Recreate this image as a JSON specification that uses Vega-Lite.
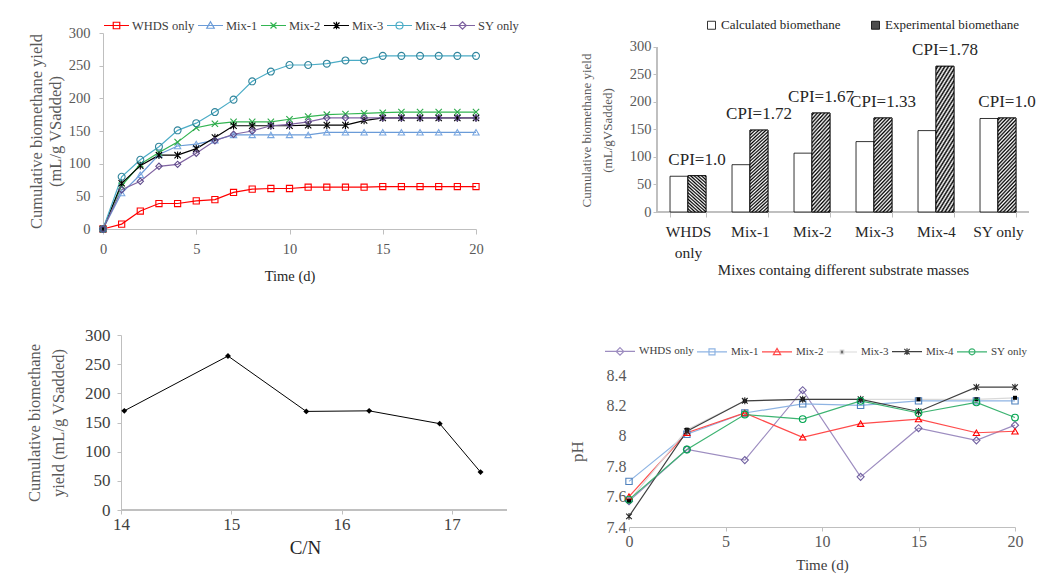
{
  "$schema": "https://vega.github.io/schema/vega-lite/v6.json",
  "background": "white",
  "padding": {"left": 26, "top": 12, "right": 5, "bottom": 5},
  "datasets": {
    "cum": [
      {"d": 0, "WHDS only": 0, "Mix-1": 0, "Mix-2": 0, "Mix-3": 0, "Mix-4": 0, "SY only": 0},
      {"d": 1, "WHDS only": 7.5, "Mix-1": 55, "Mix-2": 66, "Mix-3": 70, "Mix-4": 80, "SY only": 60},
      {"d": 2, "WHDS only": 27.5, "Mix-1": 83, "Mix-2": 99, "Mix-3": 97, "Mix-4": 106, "SY only": 73},
      {"d": 3, "WHDS only": 39, "Mix-1": 114, "Mix-2": 117, "Mix-3": 113, "Mix-4": 126, "SY only": 96},
      {"d": 4, "WHDS only": 39, "Mix-1": 127, "Mix-2": 133, "Mix-3": 113, "Mix-4": 151, "SY only": 99},
      {"d": 5, "WHDS only": 43, "Mix-1": 130, "Mix-2": 155, "Mix-3": 123, "Mix-4": 162, "SY only": 116},
      {"d": 6, "WHDS only": 45, "Mix-1": 136, "Mix-2": 161, "Mix-3": 140, "Mix-4": 179, "SY only": 135},
      {"d": 7, "WHDS only": 56, "Mix-1": 144, "Mix-2": 164, "Mix-3": 158, "Mix-4": 198, "SY only": 145},
      {"d": 8, "WHDS only": 61, "Mix-1": 144, "Mix-2": 164, "Mix-3": 158, "Mix-4": 226, "SY only": 150},
      {"d": 9, "WHDS only": 62, "Mix-1": 144, "Mix-2": 164, "Mix-3": 158, "Mix-4": 241, "SY only": 158},
      {"d": 10, "WHDS only": 62, "Mix-1": 144, "Mix-2": 168, "Mix-3": 158, "Mix-4": 251, "SY only": 160},
      {"d": 11, "WHDS only": 64, "Mix-1": 144, "Mix-2": 172, "Mix-3": 159, "Mix-4": 251, "SY only": 164},
      {"d": 12, "WHDS only": 64, "Mix-1": 148, "Mix-2": 175, "Mix-3": 159, "Mix-4": 253, "SY only": 170},
      {"d": 13, "WHDS only": 64, "Mix-1": 148, "Mix-2": 176, "Mix-3": 159, "Mix-4": 258, "SY only": 170},
      {"d": 14, "WHDS only": 64, "Mix-1": 148, "Mix-2": 177, "Mix-3": 166, "Mix-4": 258, "SY only": 170},
      {"d": 15, "WHDS only": 65, "Mix-1": 148, "Mix-2": 178, "Mix-3": 170, "Mix-4": 265, "SY only": 170},
      {"d": 16, "WHDS only": 65, "Mix-1": 148, "Mix-2": 179, "Mix-3": 170, "Mix-4": 265, "SY only": 170},
      {"d": 17, "WHDS only": 65, "Mix-1": 148, "Mix-2": 179, "Mix-3": 170, "Mix-4": 265, "SY only": 170},
      {"d": 18, "WHDS only": 65, "Mix-1": 148, "Mix-2": 179, "Mix-3": 170, "Mix-4": 265, "SY only": 170},
      {"d": 19, "WHDS only": 65, "Mix-1": 148, "Mix-2": 179, "Mix-3": 170, "Mix-4": 265, "SY only": 170},
      {"d": 20, "WHDS only": 65, "Mix-1": 148, "Mix-2": 179, "Mix-3": 170, "Mix-4": 265, "SY only": 170}
    ],
    "bars": [
      {"cat": "WHDS only", "type": "Calculated biomethane", "v": 65},
      {"cat": "WHDS only", "type": "Experimental biomethane", "v": 66, "cpi": "CPI=1.0"},
      {"cat": "Mix-1", "type": "Calculated biomethane", "v": 86},
      {"cat": "Mix-1", "type": "Experimental biomethane", "v": 149, "cpi": "CPI=1.72"},
      {"cat": "Mix-2", "type": "Calculated biomethane", "v": 107},
      {"cat": "Mix-2", "type": "Experimental biomethane", "v": 180, "cpi": "CPI=1.67"},
      {"cat": "Mix-3", "type": "Calculated biomethane", "v": 128},
      {"cat": "Mix-3", "type": "Experimental biomethane", "v": 171, "cpi": "CPI=1.33"},
      {"cat": "Mix-4", "type": "Calculated biomethane", "v": 148},
      {"cat": "Mix-4", "type": "Experimental biomethane", "v": 265, "cpi": "CPI=1.78"},
      {"cat": "SY only", "type": "Calculated biomethane", "v": 170},
      {"cat": "SY only", "type": "Experimental biomethane", "v": 171, "cpi": "CPI=1.0"}
    ],
    "cn": [
      {"cn": 14.03, "y": 170},
      {"cn": 14.97, "y": 264},
      {"cn": 15.68, "y": 169},
      {"cn": 16.25, "y": 170},
      {"cn": 16.89, "y": 148},
      {"cn": 17.26, "y": 65}
    ],
    "ph": [
      {"t": 0, "WHDS only": 7.57, "Mix-1": 7.70, "Mix-2": 7.60, "Mix-3": 7.57, "Mix-4": 7.47, "SY only": 7.58},
      {"t": 3, "WHDS only": 7.91, "Mix-1": 8.01, "Mix-2": 8.02, "Mix-3": 8.04, "Mix-4": 8.03, "SY only": 7.91},
      {"t": 6, "WHDS only": 7.84, "Mix-1": 8.15, "Mix-2": 8.15, "Mix-3": 8.23, "Mix-4": 8.23, "SY only": 8.14},
      {"t": 9, "WHDS only": 8.30, "Mix-1": 8.21, "Mix-2": 7.99, "Mix-3": 8.24, "Mix-4": 8.24, "SY only": 8.11},
      {"t": 12, "WHDS only": 7.73, "Mix-1": 8.20, "Mix-2": 8.08, "Mix-3": 8.24, "Mix-4": 8.24, "SY only": 8.23},
      {"t": 15, "WHDS only": 8.05, "Mix-1": 8.23, "Mix-2": 8.11, "Mix-3": 8.24, "Mix-4": 8.16, "SY only": 8.15},
      {"t": 18, "WHDS only": 7.97, "Mix-1": 8.23, "Mix-2": 8.02, "Mix-3": 8.24, "Mix-4": 8.32, "SY only": 8.22},
      {"t": 20, "WHDS only": 8.07, "Mix-1": 8.23, "Mix-2": 8.03, "Mix-3": 8.25, "Mix-4": 8.32, "SY only": 8.12}
    ]
  },
  "resolve": {
    "scale": {"color": "independent", "fill": "independent"},
    "legend": {"color": "independent", "fill": "independent"}
  },
  "hconcat": [
    {
      "spacing": 43,
      "resolve": {
        "scale": {"color": "independent", "fill": "independent"},
        "legend": {"color": "independent", "fill": "independent"}
      },
      "vconcat": [
        {
          "width": 373,
          "height": 196,
          "data": {"name": "cum"},
          "transform": [{"fold": ["WHDS only", "Mix-1", "Mix-2", "Mix-3", "Mix-4", "SY only"], "as": ["series", "y"]}],
          "encoding": {
            "x": {"field": "d", "type": "quantitative", "scale": {"domain": [0, 20], "nice": false},
              "axis": {"title": "Time (d)", "values": [0, 5, 10, 15, 20], "tickSize": 5, "labelPadding": 8, "labelFontSize": 14.5, "labelColor": "#595959", "titleFontSize": 14.5, "titleColor": "#262626", "titlePadding": 14}},
            "y": {"field": "y", "type": "quantitative", "scale": {"domain": [0, 300]},
              "axis": {"title": ["Cumulative biomethane yield", "(mL/g VSadded)"], "values": [0, 50, 100, 150, 200, 250, 300], "tickSize": 4, "labelPadding": 9, "labelFontSize": 14.5, "labelColor": "#595959", "titleFontSize": 16.5, "titleLineHeight": 18.5, "titlePadding": 5, "titleColor": "#595959"}}
          },
          "layer": [
            {
              "mark": {"type": "line", "strokeWidth": 1.2},
              "encoding": {
                "color": {"field": "series", "type": "nominal",
                  "scale": {"domain": ["WHDS only", "Mix-1", "Mix-2", "Mix-3", "Mix-4", "SY only"], "range": ["#ff0000", "#6a9bd8", "#33b552", "#000000", "#4bacc6", "#8064a2"]},
                  "legend": {"orient": "none", "legendX": 0, "legendY": -21, "direction": "horizontal", "columns": 6, "title": null, "symbolSize": 625, "symbolStrokeWidth": 1.2, "labelFontSize": 12.5, "labelColor": "#404040", "labelOffset": 2, "columnPadding": 0, "padding": 0,
                    "encode": {"symbols": {"update": {
                      "shape": {"signal": "datum.value==='WHDS only'?'M-1,0L1,0M-0.26,-0.26L0.26,-0.26L0.26,0.26L-0.26,0.26Z':datum.value==='Mix-1'?'M-1,0L1,0M0,-0.3L0.3,0.22L-0.3,0.22Z':datum.value==='Mix-2'?'M-1,0L1,0M-0.24,-0.24L0.24,0.24M-0.24,0.24L0.24,-0.24':datum.value==='Mix-3'?'M-1,0L1,0M-0.24,-0.24L0.24,0.24M-0.24,0.24L0.24,-0.24M0,-0.3L0,0.3':datum.value==='Mix-4'?'M-1,0L1,0M-0.28,0A0.28,0.28,0,1,0,0.28,0A0.28,0.28,0,1,0,-0.28,0':'M-1,0L1,0M0,-0.3L0.3,0L0,0.3L-0.3,0Z'"},
                      "fill": {"value": "transparent"}
                    }}}
                  }
                }
              }
            },
            {"transform": [{"filter": "datum.series === 'WHDS only'"}], "mark": {"type": "point", "shape": "square", "filled": false, "stroke": "#ff0000", "size": 38, "strokeWidth": 1.1, "opacity": 1}},
            {"transform": [{"filter": "datum.series === 'Mix-1'"}], "mark": {"type": "point", "shape": "triangle-up", "filled": false, "stroke": "#7aa7e0", "size": 40, "strokeWidth": 1.1, "opacity": 1}},
            {"transform": [{"filter": "datum.series === 'Mix-2'"}], "mark": {"type": "point", "shape": "M-1,-1L1,1M-1,1L1,-1", "filled": false, "stroke": "#2ca84a", "size": 40, "strokeWidth": 1.1, "opacity": 1}},
            {"transform": [{"filter": "datum.series === 'Mix-3'"}], "mark": {"type": "point", "shape": "M-1,-1L1,1M-1,1L1,-1M0,-1.2L0,1.2", "filled": false, "stroke": "#000000", "size": 40, "strokeWidth": 1.1, "opacity": 1}},
            {"transform": [{"filter": "datum.series === 'Mix-4'"}], "mark": {"type": "point", "shape": "circle", "filled": false, "stroke": "#31859c", "size": 48, "strokeWidth": 1.1, "opacity": 1}},
            {"transform": [{"filter": "datum.series === 'SY only'"}], "mark": {"type": "point", "shape": "diamond", "filled": false, "stroke": "#5f4b8b", "size": 40, "strokeWidth": 1.1, "opacity": 1}}
          ]
        },
        {
          "width": 404,
          "height": 175,
          "data": {"name": "cn"},
          "encoding": {
            "x": {"field": "cn", "type": "quantitative", "scale": {"domain": [13.8368, 17.5], "nice": false, "zero": false},
              "axis": {"title": "C/N", "values": [14, 15, 16, 17], "domain": false, "tickSize": 4, "labelPadding": 2, "labelFontSize": 17, "labelColor": "#404040", "titleFontSize": 19, "titleColor": "#262626", "titlePadding": 6}},
            "y": {"field": "y", "type": "quantitative", "scale": {"domain": [0, 300]},
              "axis": {"offset": -18, "title": ["Cumulative biomethane", "yield (mL/g VSadded)"], "values": [0, 50, 100, 150, 200, 250, 300], "tickSize": 4, "labelPadding": 7, "labelFontSize": 17, "labelColor": "#404040", "titleFontSize": 16.5, "titleLineHeight": 24, "titlePadding": 18, "titleColor": "#595959"}}
          },
          "layer": [
            {"mark": {"type": "rule", "color": "#bfbfbf", "strokeWidth": 1}, "encoding": {"x": {"datum": 14}, "x2": {"datum": 17.5}, "y": {"datum": 0}}},
            {"mark": {"type": "line", "color": "#000000", "strokeWidth": 1}},
            {"mark": {"type": "point", "shape": "diamond", "filled": true, "color": "#000000", "size": 35, "opacity": 1}}
          ]
        }
      ]
    },
    {
      "spacing": 57,
      "resolve": {
        "scale": {"color": "independent", "fill": "independent"},
        "legend": {"color": "independent", "fill": "independent"}
      },
      "vconcat": [
        {
          "width": 400,
          "height": 179,
          "data": {"name": "bars"},
          "encoding": {
            "x": {"field": "cat", "type": "nominal",
              "scale": {"domain": ["WHDS only", "Mix-1", "Mix-2", "Mix-3", "Mix-4", "SY only"], "paddingInner": 0.42, "paddingOuter": 0.4358, "align": 0.759},
              "axis": {"title": "Mixes containg different substrate masses", "domain": false, "labelAngle": 0, "tickBand": "extent", "tickSize": 5, "labelPadding": 7, "labelFontSize": 15.5, "labelColor": "#262626", "labelLineHeight": 21, "labelExpr": "datum.label == 'WHDS only' ? ['WHDS', 'only'] : datum.label", "titleFontSize": 15, "titleColor": "#262626", "titlePadding": 2, "titleX": 214}},
            "xOffset": {"field": "type", "type": "nominal", "scale": {"domain": ["Calculated biomethane", "Experimental biomethane"], "paddingInner": 0, "paddingOuter": 0}},
            "y": {"field": "v", "type": "quantitative", "stack": null, "scale": {"domain": [0, 325.45], "nice": false},
              "axis": {"offset": -28, "domain": false, "title": ["Cumulative biomethane yield", "(mL/gVSadded)"], "values": [0, 50, 100, 150, 200, 250, 300], "tickSize": 4, "labelPadding": 2, "labelFontSize": 14.5, "labelColor": "#595959", "titleFontSize": 13, "titleLineHeight": 21, "titlePadding": 15, "titleColor": "#595959", "titleY": 97}}
          },
          "layer": [
            {"mark": {"type": "rule", "color": "#bfbfbf", "strokeWidth": 1}, "encoding": {"x": {"datum": "WHDS only", "bandPosition": -0.362}, "x2": {"datum": "SY only", "bandPosition": 1.362}, "y": {"datum": 0}, "xOffset": null}},
            {"mark": {"type": "rule", "color": "#bfbfbf", "strokeWidth": 1}, "encoding": {"x": {"datum": "WHDS only", "bandPosition": -0.362}, "y": {"datum": 0}, "y2": {"datum": 300}, "xOffset": null}},
            {
              "mark": {"type": "bar", "stroke": "#000000", "strokeWidth": 0.8},
              "encoding": {
                "fill": {"field": "type", "type": "nominal",
                  "scale": {"domain": ["Calculated biomethane", "Experimental biomethane"], "range": ["#ffffff", "#4d4d4d"]},
                  "legend": {"orient": "none", "legendX": 70, "legendY": -20.5, "direction": "horizontal", "columns": 2, "title": null, "symbolType": "square", "symbolSize": 64, "symbolStrokeColor": "#000000", "symbolStrokeWidth": 0.8, "labelFontSize": 13, "labelColor": "#262626", "labelOffset": 3, "columnPadding": 28, "padding": 6}}
              }
            },
            {
              "transform": [{"filter": "datum.type === 'Experimental biomethane'"}],
              "mark": {"type": "bar", "stroke": "#000000", "strokeWidth": 0.8,
                "fill": {"gradient": "linear", "x1": 0, "y1": 0, "x2": 0.2308, "y2": 1.154, "stops": [
                  {"offset": 0, "color": "#ffffff"}, {"offset": 0.0167, "color": "#000000"}, {"offset": 0.0333, "color": "#ffffff"}, {"offset": 0.05, "color": "#000000"},
                  {"offset": 0.0667, "color": "#ffffff"}, {"offset": 0.0833, "color": "#000000"}, {"offset": 0.1, "color": "#ffffff"}, {"offset": 0.1167, "color": "#000000"},
                  {"offset": 0.1333, "color": "#ffffff"}, {"offset": 0.15, "color": "#000000"}, {"offset": 0.1667, "color": "#ffffff"}, {"offset": 0.1833, "color": "#000000"},
                  {"offset": 0.2, "color": "#ffffff"}, {"offset": 0.2167, "color": "#000000"}, {"offset": 0.2333, "color": "#ffffff"}, {"offset": 0.25, "color": "#000000"},
                  {"offset": 0.2667, "color": "#ffffff"}, {"offset": 0.2833, "color": "#000000"}, {"offset": 0.3, "color": "#ffffff"}, {"offset": 0.3167, "color": "#000000"},
                  {"offset": 0.3333, "color": "#ffffff"}, {"offset": 0.35, "color": "#000000"}, {"offset": 0.3667, "color": "#ffffff"}, {"offset": 0.3833, "color": "#000000"},
                  {"offset": 0.4, "color": "#ffffff"}, {"offset": 0.4167, "color": "#000000"}, {"offset": 0.4333, "color": "#ffffff"}, {"offset": 0.45, "color": "#000000"},
                  {"offset": 0.4667, "color": "#ffffff"}, {"offset": 0.4833, "color": "#000000"}, {"offset": 0.5, "color": "#ffffff"}, {"offset": 0.5167, "color": "#000000"},
                  {"offset": 0.5333, "color": "#ffffff"}, {"offset": 0.55, "color": "#000000"}, {"offset": 0.5667, "color": "#ffffff"}, {"offset": 0.5833, "color": "#000000"},
                  {"offset": 0.6, "color": "#ffffff"}, {"offset": 0.6167, "color": "#000000"}, {"offset": 0.6333, "color": "#ffffff"}, {"offset": 0.65, "color": "#000000"},
                  {"offset": 0.6667, "color": "#ffffff"}, {"offset": 0.6833, "color": "#000000"}, {"offset": 0.7, "color": "#ffffff"}, {"offset": 0.7167, "color": "#000000"},
                  {"offset": 0.7333, "color": "#ffffff"}, {"offset": 0.75, "color": "#000000"}, {"offset": 0.7667, "color": "#ffffff"}, {"offset": 0.7833, "color": "#000000"},
                  {"offset": 0.8, "color": "#ffffff"}, {"offset": 0.8167, "color": "#000000"}, {"offset": 0.8333, "color": "#ffffff"}, {"offset": 0.85, "color": "#000000"},
                  {"offset": 0.8667, "color": "#ffffff"}, {"offset": 0.8833, "color": "#000000"}, {"offset": 0.9, "color": "#ffffff"}, {"offset": 0.9167, "color": "#000000"},
                  {"offset": 0.9333, "color": "#ffffff"}, {"offset": 0.95, "color": "#000000"}, {"offset": 0.9667, "color": "#ffffff"}, {"offset": 0.9833, "color": "#000000"},
                  {"offset": 1, "color": "#ffffff"}
                ]}}
            },
            {
              "transform": [{"filter": "datum.type === 'Experimental biomethane'"}],
              "mark": {"type": "text", "dy": -16, "fontSize": 17, "color": "#262626", "baseline": "middle", "align": "center"},
              "encoding": {"text": {"field": "cpi"}}
            }
          ]
        },
        {
          "width": 386,
          "height": 152,
          "data": {"name": "ph"},
          "transform": [{"fold": ["WHDS only", "Mix-1", "Mix-2", "Mix-3", "Mix-4", "SY only"], "as": ["series", "ph"]}],
          "encoding": {
            "x": {"field": "t", "type": "quantitative", "scale": {"domain": [0, 20], "nice": false},
              "axis": {"title": "Time  (d)", "values": [0, 5, 10, 15, 20], "tickSize": 4, "labelPadding": 2, "labelFontSize": 16, "labelColor": "#595959", "titleFontSize": 15, "titleColor": "#404040", "titlePadding": 8}},
            "y": {"field": "ph", "type": "quantitative", "scale": {"domain": [7.4, 8.4], "nice": false, "zero": false},
              "axis": {"title": "pH", "values": [7.4, 7.6, 7.8, 8, 8.2, 8.4], "format": "~g", "domain": false, "ticks": false, "labelPadding": 3, "labelFontSize": 16, "labelColor": "#595959", "titleFontSize": 17, "titlePadding": 20, "titleColor": "#595959"}}
          },
          "layer": [
            {
              "mark": {"type": "line", "strokeWidth": 1.2},
              "encoding": {
                "color": {"field": "series", "type": "nominal",
                  "scale": {"domain": ["WHDS only", "Mix-1", "Mix-2", "Mix-3", "Mix-4", "SY only"], "range": ["#9d8dc0", "#8eb4e3", "#ff4b4b", "#d9d9d9", "#404040", "#3cb371"]},
                  "legend": {"orient": "none", "legendX": -25, "legendY": -40, "direction": "horizontal", "columns": 6, "title": null, "symbolSize": 900, "symbolStrokeWidth": 1.2, "labelFontSize": 11, "labelColor": "#404040", "labelOffset": 3, "columnPadding": 0, "padding": 0,
                    "encode": {"symbols": {"update": {
                      "shape": {"signal": "datum.value==='WHDS only'?'M-1,0L1,0M0,-0.25L0.25,0L0,0.25L-0.25,0Z':datum.value==='Mix-1'?'M-1,0L1,0M-0.2,-0.2L0.2,-0.2L0.2,0.2L-0.2,0.2Z':datum.value==='Mix-2'?'M-1,0L1,0M0,-0.24L0.24,0.18L-0.24,0.18Z':datum.value==='Mix-3'?'M-1,0L1,0M-0.12,-0.12L0.12,-0.12L0.12,0.12L-0.12,0.12Z':datum.value==='Mix-4'?'M-1,0L1,0M-0.18,-0.18L0.18,0.18M-0.18,0.18L0.18,-0.18M0,-0.22L0,0.22':'M-1,0L1,0M-0.2,0A0.2,0.2,0,1,0,0.2,0A0.2,0.2,0,1,0,-0.2,0'"},
                      "fill": {"signal": "datum.value==='Mix-3'?'#000000':'transparent'"}
                    }}}
                  }
                }
              }
            },
            {"transform": [{"filter": "datum.series === 'WHDS only'"}], "mark": {"type": "point", "shape": "diamond", "filled": false, "stroke": "#6f5f9f", "size": 50, "strokeWidth": 1.1, "opacity": 1}},
            {"transform": [{"filter": "datum.series === 'Mix-1'"}], "mark": {"type": "point", "shape": "square", "filled": false, "stroke": "#4f81bd", "size": 40, "strokeWidth": 1.1, "opacity": 1}},
            {"transform": [{"filter": "datum.series === 'Mix-2'"}], "mark": {"type": "point", "shape": "triangle-up", "filled": false, "stroke": "#ff0000", "size": 40, "strokeWidth": 1.1, "opacity": 1}},
            {"transform": [{"filter": "datum.series === 'Mix-3'"}], "mark": {"type": "point", "shape": "square", "filled": true, "color": "#000000", "size": 16, "opacity": 1}},
            {"transform": [{"filter": "datum.series === 'Mix-4'"}], "mark": {"type": "point", "shape": "M-0.9,-0.9L0.9,0.9M-0.9,0.9L0.9,-0.9M0,-1.1L0,1.1", "filled": false, "stroke": "#262626", "size": 40, "strokeWidth": 1.1, "opacity": 1}},
            {"transform": [{"filter": "datum.series === 'SY only'"}], "mark": {"type": "point", "shape": "circle", "filled": false, "stroke": "#00a550", "size": 45, "strokeWidth": 1.1, "opacity": 1}}
          ]
        }
      ]
    }
  ],
  "spacing": 48,
  "config": {
    "font": "Liberation Serif",
    "view": {"stroke": null},
    "axis": {"grid": false, "domainColor": "#bfbfbf", "tickColor": "#bfbfbf", "labelFont": "Liberation Serif", "titleFont": "Liberation Serif", "titleFontWeight": "normal", "labelFlush": false, "labelOverlap": false, "labelBound": false},
    "legend": {"labelFont": "Liberation Serif", "labelLimit": 300},
    "text": {"font": "Liberation Serif"}
  }
}
